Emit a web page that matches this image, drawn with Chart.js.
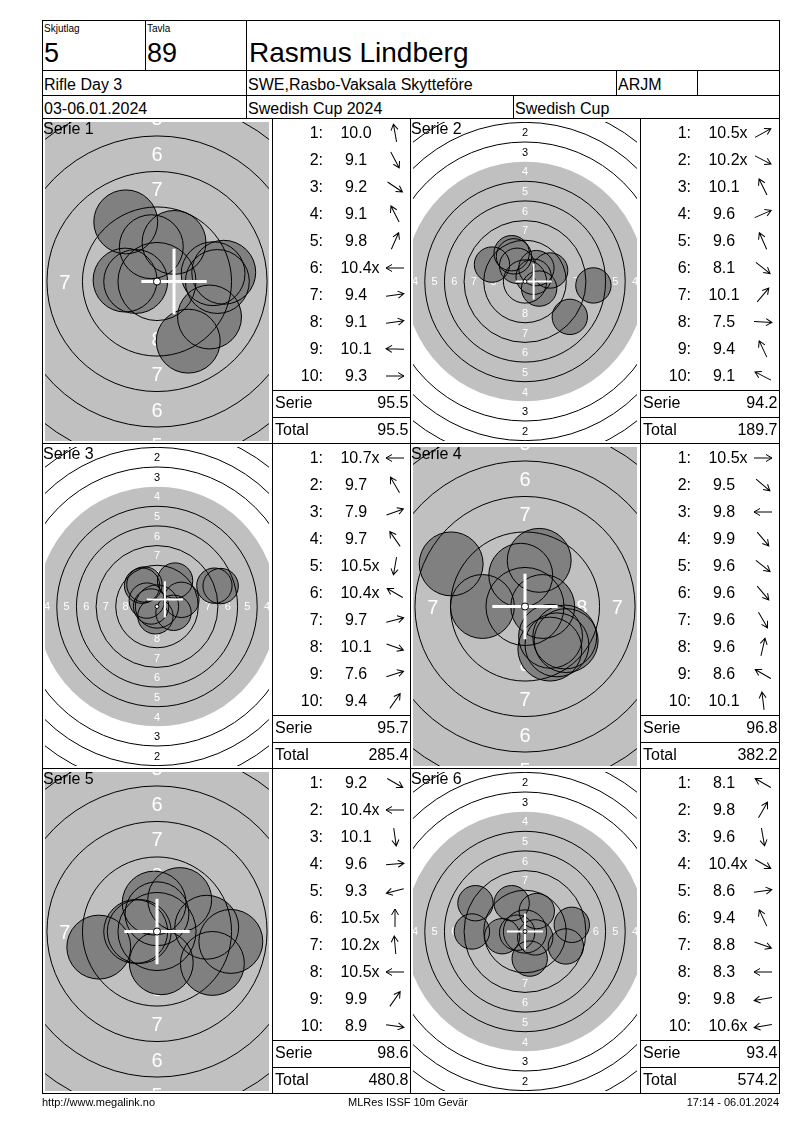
<!DOCTYPE html>
<html>
<head>
<meta charset="utf-8">
<title>Rasmus Lindberg - Rifle Day 3</title>
<script src="https://cdn.jsdelivr.net/npm/chart.js@4.4.1/dist/chart.umd.min.js"></script>
<style>
    body { margin: 0; background: #fff; font-family: "Liberation Sans", Arial, sans-serif; }
    #page { position: relative; width: 800px; height: 1130px; overflow: hidden; }
    .box { position: absolute; border: 1px solid #000; box-sizing: border-box; }
    .t { position: absolute; white-space: nowrap; line-height: 1; color: #000; }
    canvas.target { position: absolute; }
    svg.arrow { position: absolute; overflow: visible; }
</style>
</head>
<body>
<div id="page"></div>
<script>
// series info
var seriesLabels = ['Serie 1', 'Serie 2', 'Serie 3', 'Serie 4', 'Serie 5', 'Serie 6'];
var targetZoom = ['near', 'far', 'far', 'near', 'near', 'far'];
var serieSums = ['95.5', '94.2', '95.7', '96.8', '98.6', '93.4'];
var runningTotals = ['95.5', '189.7', '285.4', '382.2', '480.8', '574.2'];

// shot scores, arrow direction (degrees, 0 = right, 90 = up), shot position in mm
var scores1 = ['10.0', '9.1', '9.2', '9.1', '9.8', '10.4x', '9.4', '9.1', '10.1', '9.3'];
var dirs1 = [100, -62, -34, 117, 66, 180, 8, 8, 178, 0];
var shotX1 = [-0.4, 2.2, 3.7, -2.2, 1.2, -1.5, 3.95, 4.7, -2.25, 4.25];
var shotY1 = [2.45, -4.2, -2.5, 4.2, 2.75, 0.0, 0.55, 0.65, 0.1, 0.0];

var scores2 = ['10.5x', '10.2x', '10.1', '9.6', '9.6', '8.1', '10.1', '7.5', '9.4', '9.1'];
var dirs2 = [29, -27, 116, 24, 114, -38, 50, -3, 115, 153];
var shotX2 = [1.1, 1.8, -1.0, 3.2, -1.4, 5.7, 1.45, 8.7, -1.7, -4.2];
var shotY2 = [0.6, -0.9, 2.0, 1.4, 3.2, -4.5, 1.7, -0.5, 3.6, 2.15];

var scores3 = ['10.7x', '9.7', '7.9', '9.7', '10.5x', '10.4x', '9.7', '10.1', '7.6', '9.4'];
var dirs3 = [180, 120, 20, 125, -100, 150, 15, -20, 18, 55];
var shotX3 = [-0.75, -1.6, 7.3, -1.9, -0.2, -1.3, 3.1, 2.1, 8.1, 2.3];
var shotY3 = [0.0, 2.8, 2.65, 2.65, -1.25, 0.75, 0.85, -0.8, 2.6, 3.3];

var scores4 = ['10.5x', '9.5', '9.8', '9.9', '9.6', '9.6', '9.6', '9.6', '8.6', '10.1'];
var dirs4 = [0, -40, 180, -50, -38, -50, -60, 77, 150, 97];
var shotX4 = [1.25, 2.9, -3.0, 1.8, 2.8, 2.25, 1.75, 1.0, -5.2, -0.3];
var shotY4 = [0.0, -2.4, 0.0, -2.1, -2.15, -2.7, -3.0, 3.25, 3.0, 2.2];

var scores5 = ['9.2', '10.4x', '10.1', '9.6', '9.3', '10.5x', '10.2x', '10.5x', '9.9', '8.9'];
var dirs5 = [-30, 180, -82, 5, 195, 90, 95, 180, 55, -8];
var shotX5 = [3.9, -1.5, 0.3, 3.5, -4.1, 0.0, -0.2, -1.25, 1.6, 5.2];
var shotY5 = [-2.25, 0.0, -2.2, 0.3, -1.1, 1.25, 2.0, 0.0, 2.25, -0.7];

var scores6 = ['8.1', '9.8', '9.6', '10.4x', '8.6', '9.4', '8.8', '8.3', '9.8', '10.6x'];
var dirs6 = [150, 60, -80, -30, 8, 115, -20, 180, 190, 190];
var shotX6 = [-6.3, 1.5, 0.6, 1.3, 5.95, -1.7, 5.2, -6.75, -2.9, -1.0];
var shotY6 = [3.6, 2.6, -3.45, -0.75, 0.85, 3.6, -1.9, 0.0, -0.6, -0.15];

// white cross position (mm) per series
var crossX = [1.2, 1.1, 1.0, 0, 0, 0];
var crossY = [0, 0, 0.9, 0, 0, 0];

var scores = [scores1, scores2, scores3, scores4, scores5, scores6];
var dirs = [dirs1, dirs2, dirs3, dirs4, dirs5, dirs6];
var shotX = [shotX1, shotX2, shotX3, shotX4, shotX5, shotX6];
var shotY = [shotY1, shotY2, shotY3, shotY4, shotY5, shotY6];

// ISSF 10m rifle target: ring k radius in mm, pellet radius
function ringRadius(k) { return k === 10 ? 0.25 : 22.75 - 2.5 * (k - 1); }
var PELLET_R = 2.25;

var page = document.getElementById('page');

function box(x1, y1, x2, y2) {
    var d = document.createElement('div');
    d.className = 'box';
    d.style.left = x1 + 'px';
    d.style.top = y1 + 'px';
    d.style.width = (x2 - x1 + 1) + 'px';
    d.style.height = (y2 - y1 + 1) + 'px';
    page.appendChild(d);
}

function text(x, base, str, size, align) {
    var d = document.createElement('div');
    d.className = 't';
    d.textContent = str;
    d.style.fontSize = size + 'px';
    d.style.left = x + 'px';
    d.style.top = (base - 0.8465 * size) + 'px';
    if (align === 'right') d.style.transform = 'translateX(-100%)';
    if (align === 'center') d.style.transform = 'translateX(-50%)';
    page.appendChild(d);
    return d;
}

function arrow(cx, cy, deg) {
    var ns = 'http://www.w3.org/2000/svg';
    var svg = document.createElementNS(ns, 'svg');
    svg.setAttribute('class', 'arrow');
    svg.setAttribute('width', 24);
    svg.setAttribute('height', 24);
    svg.style.left = (cx - 12) + 'px';
    svg.style.top = (cy - 12) + 'px';
    var p = document.createElementNS(ns, 'path');
    p.setAttribute('transform', 'translate(12,12) rotate(' + (-deg) + ')');
    p.setAttribute('d', 'M-9,0 L9,0 M3,-3.5 L9,0 L3,3.5');
    p.setAttribute('stroke', '#000');
    p.setAttribute('stroke-width', '1');
    p.setAttribute('fill', 'none');
    svg.appendChild(p);
    page.appendChild(svg);
}

// rings, numbers, cross
var targetPlugin = {
    id: 'target',
    beforeDatasetsDraw: function (chart) {
        var c = chart.ctx, a = chart.chartArea;
        var ox = chart.scales.x.getPixelForValue(0), oy = chart.scales.y.getPixelForValue(0);
        var k = chart.scales.x.getPixelForValue(1) - ox;
        c.save();
        c.beginPath();
        c.rect(a.left, a.top, a.right - a.left, a.bottom - a.top);
        c.clip();
        c.fillStyle = '#c0c0c0';
        c.beginPath();
        c.arc(ox, oy, ringRadius(4) * k, 0, Math.PI * 2);
        c.fill();
        var fs = Math.round(k * 1.38);
        c.font = fs + 'px "Liberation Sans", Arial, sans-serif';
        c.textAlign = 'center';
        c.textBaseline = 'alphabetic';
        for (var ring = 1; ring <= 8; ring++) {
            var r = (ringRadius(ring) - 1.25) * k;
            c.fillStyle = ring < 4 ? '#000' : '#fff';
            c.fillText(String(ring), ox, oy - r + fs * 0.36);
            c.fillText(String(ring), ox, oy + r + fs * 0.36);
            c.fillText(String(ring), ox - r, oy + fs * 0.36);
            c.fillText(String(ring), ox + r, oy + fs * 0.36);
        }
        c.restore();
    },
    afterDatasetDraw: function (chart, args) {
        if (args.index !== 0) return;
        var c = chart.ctx, a = chart.chartArea;
        var ox = chart.scales.x.getPixelForValue(0), oy = chart.scales.y.getPixelForValue(0);
        var k = chart.scales.x.getPixelForValue(1) - ox;
        c.save();
        c.beginPath();
        c.rect(a.left, a.top, a.right - a.left, a.bottom - a.top);
        c.clip();
        c.strokeStyle = '#000';
        c.lineWidth = 1;
        for (var ring = 1; ring <= 9; ring++) {
            if (ring === 4) continue;
            c.beginPath();
            c.arc(ox, oy, ringRadius(ring) * k, 0, Math.PI * 2);
            c.stroke();
        }
        c.restore();
    },
    afterDatasetsDraw: function (chart, args, opts) {
        var c = chart.ctx, a = chart.chartArea;
        var ox = chart.scales.x.getPixelForValue(0), oy = chart.scales.y.getPixelForValue(0);
        var k = chart.scales.x.getPixelForValue(1) - ox;
        var gx = chart.scales.x.getPixelForValue(opts.cx), gy = chart.scales.y.getPixelForValue(opts.cy);
        var arm = 2.3 * k;
        c.save();
        c.beginPath();
        c.rect(a.left, a.top, a.right - a.left, a.bottom - a.top);
        c.clip();
        c.strokeStyle = '#fff';
        c.lineWidth = Math.max(2, Math.round(k * 0.2));
        c.beginPath();
        c.moveTo(gx - arm, gy); c.lineTo(gx + arm, gy);
        c.moveTo(gx, gy - arm); c.lineTo(gx, gy + arm);
        c.stroke();
        c.fillStyle = '#fff';
        c.strokeStyle = '#000';
        c.lineWidth = 1;
        c.beginPath();
        c.arc(ox, oy, ringRadius(10) * k, 0, Math.PI * 2);
        c.fill();
        c.stroke();
        c.restore();
    }
};

// pellet size in pixels, taken from the x scale
function pelletRadius(ctx) {
    var s = ctx.chart.scales.x;
    return s.getPixelForValue(PELLET_R) - s.getPixelForValue(0);
}

// header
box(42, 20, 145, 70);
box(145, 20, 246, 70);
box(246, 20, 779, 70);
box(42, 70, 246, 95);
box(246, 70, 616, 95);
box(616, 70, 697, 95);
box(697, 70, 779, 95);
box(42, 95, 246, 118);
box(246, 95, 513, 118);
box(513, 95, 779, 118);
text(44, 32, 'Skjutlag', 10);
text(147, 32, 'Tavla', 10);
text(44, 62.5, '5', 27);
text(147, 62.5, '89', 27);
text(249, 63, 'Rasmus Lindberg', 28);
text(44, 90.7, 'Rifle Day 3', 16);
text(248, 90.7, 'SWE,Rasbo-Vaksala Skytteföre', 16);
text(618, 90.7, 'ARJM', 16);
text(44, 114.7, '03-06.01.2024', 16);
text(248, 114.7, 'Swedish Cup 2024', 16);
text(515, 114.7, 'Swedish Cup', 16);

// series panels
var rowTops = [118, 443, 768];
var CW = 224, CH = 319;

document.addEventListener('DOMContentLoaded', function () {
    for (var i = 0; i < 6; i++) {
        var top = rowTops[Math.floor(i / 2)];
        var left = i % 2 === 0 ? 42 : 410;
        var tl = left + 230;
        var tr = i % 2 === 0 ? 410 : 779;
        box(left, top, tl, top + 325);
        box(tl, top, tr, top + 325);
        box(tl, top + 272, tr, top + 299);

        var cv = document.createElement('canvas');
        cv.className = 'target';
        cv.width = CW;
        cv.height = CH;
        cv.style.left = (left + 3) + 'px';
        cv.style.top = (top + 4) + 'px';
        page.appendChild(cv);

        var pxmm = targetZoom[i] === 'near' ? 14.2 : 7.86;
        var hw = CW / 2 / pxmm, hh = CH / 2 / pxmm;
        var pts = shotX[i].map(function (x, j) { return { x: x, y: shotY[i][j] }; });

        new Chart(cv.getContext('2d'), {
            type: 'scatter',
            data: {
                datasets: [{
                    label: seriesLabels[i],
                    data: pts,
                    showLine: false,
                    pointBackgroundColor: '#808080',
                    pointBorderWidth: 0,
                    pointRadius: pelletRadius,
                    pointHoverRadius: pelletRadius,
                    order: 2
                }, {
                    label: seriesLabels[i] + ' outline',
                    data: pts,
                    showLine: false,
                    pointBackgroundColor: 'rgba(0, 0, 0, 0)',
                    pointBorderColor: '#000',
                    pointBorderWidth: 1,
                    pointRadius: pelletRadius,
                    pointHoverRadius: pelletRadius,
                    order: 1
                }]
            },
            options: {
                responsive: false,
                animation: false,
                events: [],
                layout: { padding: 0 },
                scales: {
                    x: { type: 'linear', display: false, min: -hw, max: hw },
                    y: { type: 'linear', display: false, min: -hh, max: hh }
                },
                plugins: {
                    legend: { display: false },
                    tooltip: { enabled: false },
                    target: { cx: crossX[i], cy: crossY[i] }
                }
            },
            plugins: [targetPlugin]
        });

        text(left + 1, top + 16.7, seriesLabels[i], 16);

        for (var j = 0; j < 10; j++) {
            var base = top + 20.7 + 27.03 * j;
            text(tl + 51, base, (j + 1) + ':', 16, 'right');
            var sc = scores[i][j];
            var inner = sc.charAt(sc.length - 1) === 'x';
            var el = text(tl + 84, base, inner ? sc.slice(0, -1) : sc, 16, 'center');
            if (inner) {
                var xs = document.createElement('span');
                xs.textContent = 'x';
                xs.style.position = 'absolute';
                xs.style.left = '100%';
                xs.style.top = '0';
                el.appendChild(xs);
            }
            arrow(tl + 123, base - 6, dirs[i][j]);
        }
        text(tl + 3, top + 291, 'Serie', 16);
        text(tr - 1.5, top + 291, serieSums[i], 16, 'right');
        text(tl + 3, top + 317.5, 'Total', 16);
        text(tr - 1.5, top + 317.5, runningTotals[i], 16, 'right');
    }

    // footer
    text(42, 1106, 'http://www.megalink.no', 11);
    text(408, 1106, 'MLRes ISSF 10m Gevär', 11, 'center');
    text(779, 1106, '17:14 - 06.01.2024', 11, 'right');
});
</script>
</body>
</html>
